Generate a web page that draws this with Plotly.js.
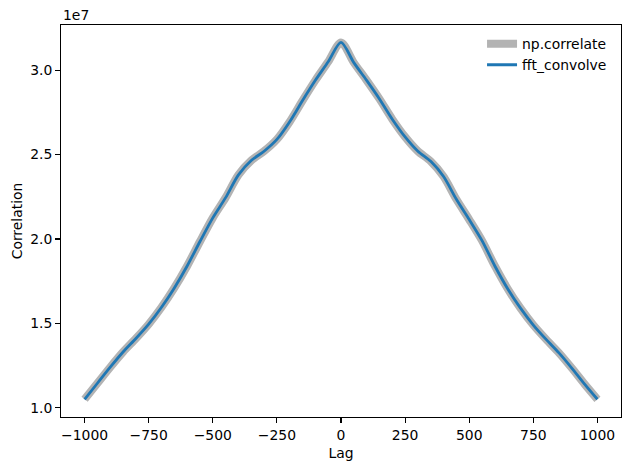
<!DOCTYPE html>
<html>
<head>
<meta charset="utf-8">
<script src="https://cdn.plot.ly/plotly-3.0.1.min.js"></script>
<style>
  body { margin: 0; background: #fff; }
  #plot { width: 630px; height: 470px; }
</style>
</head>
<body>
<div id="plot"></div>
<script>
// lag values and the correlation
const lags = [-1000, -950, -900, -850, -800, -750, -700, -650, -600, -550,
              -500, -450, -400, -350, -300, -250, -200, -150, -100, -50,
              0, 50, 100, 150, 200, 250, 300, 350, 400, 450,
              500, 550, 600, 650, 700, 750, 800, 850, 900, 950, 1000]
const corr = [1.050e7, 1.145e7, 1.240e7, 1.330e7, 1.410e7, 1.495e7, 1.595e7, 1.710e7, 1.840e7, 1.985e7,
              2.125e7, 2.245e7, 2.380e7, 2.465e7, 2.520e7, 2.590e7, 2.695e7, 2.820e7, 2.940e7, 3.050e7,
              3.165e7, 3.045e7, 2.940e7, 2.830e7, 2.710e7, 2.605e7, 2.520e7, 2.460e7, 2.370e7, 2.235e7,
              2.115e7, 1.990e7, 1.840e7, 1.705e7, 1.590e7, 1.490e7, 1.405e7, 1.325e7, 1.235e7, 1.140e7, 1.050e7]

const xticks = [-1000, -750, -500, -250, 0, 250, 500, 750, 1000]
const xticklabels = ['\u22121000', '\u2212750', '\u2212500', '\u2212250', '0', '250', '500', '750', '1000']
const yticks = [1.0e7, 1.5e7, 2.0e7, 2.5e7, 3.0e7]
const yticklabels = ['1.0', '1.5', '2.0', '2.5', '3.0']

let font = {family: 'DejaVu Sans', size: 13.9, color: '#000'}

let data = [
  {
    name: 'np.correlate',
    x: lags, y: corr,
    type: 'scatter', mode: 'lines',
    line: {color: '#b3b3b3', width: 8, shape: 'spline', smoothing: 0.8}
  },
  {
    name: 'fft_convolve',
    x: lags, y: corr,
    type: 'scatter', mode: 'lines',
    line: {color: '#1f77b4', width: 2.8, shape: 'spline', smoothing: 0.8}
  }
]

let axis = {
  showline: true, mirror: true, linecolor: '#000', linewidth: 1.1,
  ticks: 'outside', ticklen: 4.9, tickwidth: 1.1, tickcolor: '#000',
  showgrid: false, zeroline: false, tickfont: font
}

let layout = {
  width: 630, height: 470,
  margin: {l: 61.3, r: 9.3, t: 25, b: 52.7},
  paper_bgcolor: '#fff', plot_bgcolor: '#fff',
  font: font,
  showlegend: true,
  legend: {
    x: 0.984, xanchor: 'right', y: 0.992, yanchor: 'top',
    bgcolor: 'rgba(0,0,0,0)', font: font, itemwidth: 30
  },
  xaxis: Object.assign({}, axis, {
    range: [-1092, 1092],
    tickvals: xticks, ticktext: xticklabels,
    title: {text: 'Lag', font: font, standoff: 6}
  }),
  yaxis: Object.assign({}, axis, {
    range: [0.945e7, 3.268e7],
    tickvals: yticks, ticktext: yticklabels,
    title: {text: 'Correlation', font: font, standoff: 4}
  }),
  annotations: [{
    text: '1e7', xref: 'paper', yref: 'paper', x: 0, y: 1,
    xanchor: 'left', yanchor: 'bottom', showarrow: false, font: font, yshift: 0
  }]
}

Plotly.newPlot('plot', data, layout, {staticPlot: true})
</script>
</body>
</html>
